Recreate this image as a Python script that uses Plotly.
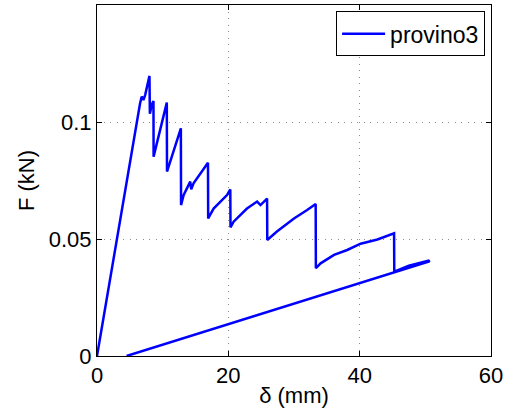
import plotly.graph_objects as go

# Force-displacement record, specimen 3 (delta in mm, F in kN)
delta_mm = [0.0, 2.75, 4.53, 6.56, 6.82, 7.07, 7.33, 7.57, 7.99, 8.05, 8.35, 8.60,
            8.62, 10.63, 10.66, 12.77, 12.80, 13.2, 14.2, 14.35, 14.7, 16.9,
            16.93, 17.76, 19.8, 20.3, 20.33, 20.8, 22.84, 24.38, 24.9, 25.9,
            25.93, 27.4, 30.0, 32.0, 33.3, 33.33, 34.05, 36.1, 38.1, 40.15,
            42.7, 45.24, 45.27, 47.5, 50.6, 50.55, 30.0, 4.5]
force_kN = [0.0, 0.0453, 0.0755, 0.1080, 0.1109, 0.1094, 0.1115, 0.1151, 0.1197, 0.1035, 0.1075, 0.1090,
            0.0852, 0.1083, 0.0788, 0.0973, 0.0645, 0.0688, 0.0745, 0.0712, 0.0738, 0.0826,
            0.0588, 0.0630, 0.0688, 0.0712, 0.0550, 0.0574, 0.0630, 0.0660, 0.0645, 0.0673,
            0.0496, 0.0532, 0.0588, 0.0624, 0.0650, 0.0375, 0.0396, 0.0432, 0.0453, 0.0480,
            0.0498, 0.0524, 0.0360, 0.0386, 0.0408, 0.0404, 0.0225, 0.0]

x_ticks = [0, 20, 40, 60]
y_ticks = [0, 0.05, 0.1]
y_tick_text = ["0", "0.05", "0.1"]

FONT = "Liberation Sans, Arial, Helvetica, sans-serif"

fig = go.Figure()
fig.add_trace(go.Scatter(
    x=delta_mm, y=force_kN, mode="lines", name="provino3",
    line=dict(color="#0000ff", width=2.5),
))

axis_common = dict(
    showline=True, linecolor="black", linewidth=1, mirror="ticks",
    ticks="inside", ticklen=5, tickcolor="black", tickwidth=1,
    showgrid=True, gridcolor="#8c8c8c", griddash="1px,5.5px", gridwidth=1,
    zeroline=False, tickfont=dict(family=FONT, size=22, color="black"),
)

fig.update_layout(
    width=508, height=414,
    margin=dict(l=97, r=17, t=5, b=58),
    paper_bgcolor="white", plot_bgcolor="white",
    font=dict(family=FONT, size=22, color="black"),
    xaxis=dict(range=[0, 60], tickvals=x_ticks,
               title=dict(text="δ (mm)", standoff=0, font=dict(size=22)),
               **axis_common),
    yaxis=dict(range=[0, 0.15], tickvals=y_ticks, ticktext=y_tick_text,
               title=dict(text="F (kN)", standoff=8, font=dict(size=22)),
               **axis_common),
    legend=dict(x=0.985, y=0.982, xanchor="right", yanchor="top",
                bgcolor="white", bordercolor="black", borderwidth=1,
                font=dict(family=FONT, size=23, color="black"),
                itemwidth=43, tracegroupgap=0),
    showlegend=True,
)

fig.write_html("out.html")
